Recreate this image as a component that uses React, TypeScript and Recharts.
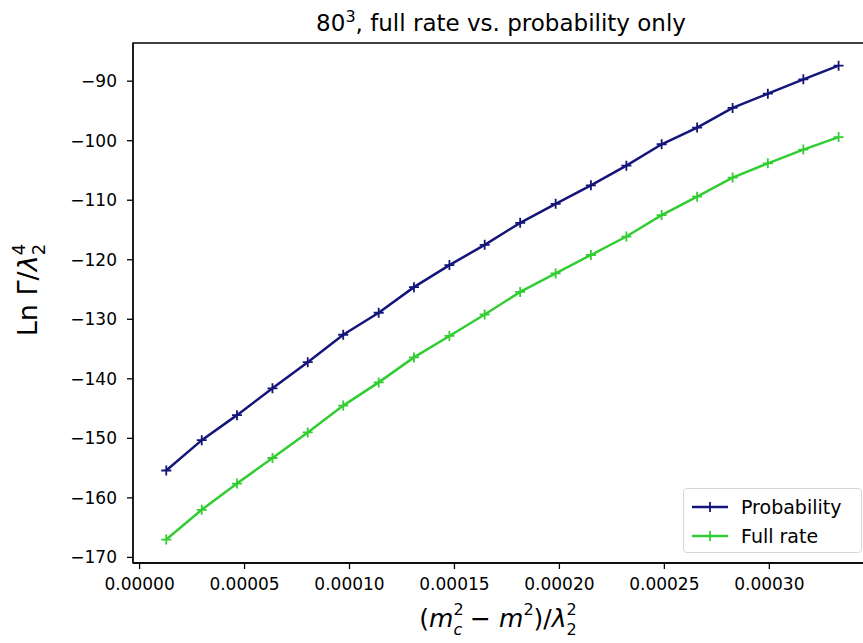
import { Line, LineChart, ReferenceArea, XAxis, YAxis } from 'recharts'

// 80^3 lattice: ln(rate) vs distance from the critical mass, two estimates
const xs = [
  0.0000127, 0.0000296, 0.0000464, 0.0000633, 0.0000801, 0.000097, 0.0001139, 0.0001307, 0.0001476, 0.0001644,
  0.0001813, 0.0001982, 0.000215, 0.0002319, 0.0002487, 0.0002656, 0.0002825, 0.0002993, 0.0003162, 0.000333,
]
const probability = [
  -155.4, -150.3, -146.1, -141.6, -137.2, -132.6, -128.9, -124.6, -120.9, -117.5,
  -113.8, -110.6, -107.5, -104.2, -100.6, -97.8, -94.5, -92.1, -89.7, -87.4,
]
const fullRate = [
  -167.0, -162.0, -157.6, -153.3, -149.0, -144.5, -140.6, -136.4, -132.8, -129.2,
  -125.4, -122.3, -119.2, -116.1, -112.5, -109.4, -106.2, -103.8, -101.5, -99.4,
]
const xTicks = [0, 0.00005, 0.0001, 0.00015, 0.0002, 0.00025, 0.0003]
const yTicks = [-170, -160, -150, -140, -130, -120, -110, -100, -90]

const xDomain: [number, number] = [-0.00000314, 0.0003451]
const yDomain: [number, number] = [-170.94, -83.59]

const BLUE = '#14147a'
const GREEN = '#32cd32'
const FONT = "'DejaVu Sans', sans-serif"

const data = xs.map((x, i) => ({ x, prob: probability[i], full: fullRate[i] }))

// matplotlib "+" marker
const plus = (color: string) => (p: any) => {
  const { cx, cy, index } = p
  if (cx == null || cy == null) return <g key={index} />
  const s = 5
  return (
    <path
      key={index}
      d={`M${cx - s},${cy}H${cx + s}M${cx},${cy - s}V${cy + s}`}
      stroke={color}
      strokeWidth={1.8}
      fill="none"
    />
  )
}

function LegendRow({ color, label }: { color: string; label: string }) {
  return (
    <div style={{ display: 'flex', alignItems: 'center', height: 29 }}>
      <svg width={36} height={20} style={{ marginRight: 13 }}>
        <line x1={0} y1={10} x2={36} y2={10} stroke={color} strokeWidth={2.5} />
        <path d="M13,10H23M18,5V15" stroke={color} strokeWidth={1.8} />
      </svg>
      <span>{label}</span>
    </div>
  )
}

export default function App() {
  return (
    <div
      style={{
        position: 'absolute',
        left: 0,
        top: 0,
        width: 863,
        height: 643,
        overflow: 'hidden',
        background: '#fff',
        fontFamily: FONT,
      }}
    >
      <LineChart width={880} height={643} data={data} margin={{ top: 43, right: 16, bottom: 0, left: 0 }}>
        <XAxis
          dataKey="x"
          type="number"
          domain={xDomain}
          allowDataOverflow
          ticks={xTicks}
          interval={0}
          tickFormatter={(v: number) => v.toFixed(5)}
          height={80}
          tickSize={6}
          tickMargin={9}
          tick={{ fill: '#000', fontSize: 17, fontFamily: FONT }}
          tickLine={{ stroke: '#000', strokeWidth: 1.3 }}
          axisLine={{ stroke: '#000', strokeWidth: 1.3 }}
        />
        <YAxis
          type="number"
          domain={yDomain}
          allowDataOverflow
          ticks={yTicks}
          interval={0}
          tickFormatter={(v: number) => String(v).replace('-', '\u2212')}
          width={133}
          tickSize={6}
          tickMargin={10}
          tick={{ fill: '#000', fontSize: 17, fontFamily: FONT }}
          tickLine={{ stroke: '#000', strokeWidth: 1.3 }}
          axisLine={{ stroke: '#000', strokeWidth: 1.3 }}
        />
        <ReferenceArea
          x1={xDomain[0]}
          x2={xDomain[1]}
          y1={yDomain[0]}
          y2={yDomain[1]}
          fill="none"
          stroke="#000"
          strokeWidth={1.3}
        />
        <Line
          dataKey="prob"
          type="linear"
          stroke={BLUE}
          strokeWidth={2.5}
          dot={plus(BLUE)}
          activeDot={false}
          isAnimationActive={false}
        />
        <Line
          dataKey="full"
          type="linear"
          stroke={GREEN}
          strokeWidth={2.5}
          dot={plus(GREEN)}
          activeDot={false}
          isAnimationActive={false}
        />
      </LineChart>

      {/* title and axis labels */}
      <svg
        width={863}
        height={643}
        style={{ position: 'absolute', left: 0, top: 0, pointerEvents: 'none' }}
        fontFamily={FONT}
        fill="#000"
      >
        <text x={501} y={31} fontSize={23} textAnchor="middle">
          80<tspan fontSize={16} dy={-9}>3</tspan>
          <tspan dy={9}>, full rate vs. probability only</tspan>
        </text>
        <text x={498} y={627} fontSize={25} textAnchor="middle">
          (<tspan fontStyle="italic">m</tspan>
          <tspan fontSize={16} dy={-12}>2</tspan>
          <tspan fontSize={16} fontStyle="italic" dx={-10.2} dy={20}>c</tspan>
          <tspan dy={-8}> − </tspan>
          <tspan fontStyle="italic">m</tspan>
          <tspan fontSize={16} dy={-12}>2</tspan>
          <tspan dy={12}>)/</tspan>
          <tspan fontStyle="italic">λ</tspan>
          <tspan fontSize={16} dy={-12}>2</tspan>
          <tspan fontSize={16} dx={-10.2} dy={20}>2</tspan>
        </text>
        <text x={37} y={290} fontSize={27} textAnchor="middle" transform="rotate(-90 37 290)">
          Ln Γ/<tspan fontStyle="italic">λ</tspan>
          <tspan fontSize={18} dy={-12}>4</tspan>
          <tspan fontSize={18} dx={-11.4} dy={20}>2</tspan>
        </text>
      </svg>

      {/* legend, lower right */}
      <div
        style={{
          position: 'absolute',
          left: 683,
          top: 488,
          width: 179,
          height: 65,
          padding: '3px 0 0 8px',
          boxSizing: 'border-box',
          border: '1px solid #d6d6d6',
          borderRadius: 4,
          background: 'rgba(255,255,255,0.8)',
          fontSize: 19,
          color: '#000',
        }}
      >
        <LegendRow color={BLUE} label="Probability" />
        <LegendRow color={GREEN} label="Full rate" />
      </div>
    </div>
  )
}
